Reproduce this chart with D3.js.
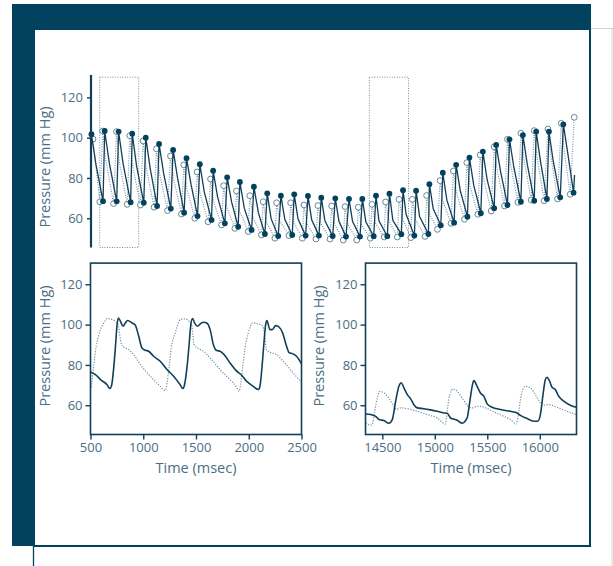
<!DOCTYPE html>
<html>
<head>
<meta charset="utf-8">
<script src="https://cdn.jsdelivr.net/npm/d3@7"></script>
<style>
  html, body { margin: 0; padding: 0; background: #ffffff; }
  svg { display: block; }
  text { font-family: "Open Sans", "Noto Sans", sans-serif; fill: #4a6e83; }
</style>
</head>
<body>
<svg id="chart" width="613" height="566"></svg>
<script>
// ---- data ---------------------------------------------------------------
// Overview trace, one row per beat: [tMin, vMin, tPeak, vPeak, tNotch, vNotch] (ms, mm Hg)
const solidBeats = [
  [null, null, 72, 101.7, 300, 87],
  [668, 68.5, 755, 103.3, 990, 87.5],
  [1370, 68.4, 1468, 103, 1700, 87],
  [2085, 68, 2168, 102, 2390, 86],
  [2760, 67.7, 2863, 100, 3090, 84.7],
  [3443, 66.1, 3546, 96.9, 3776, 82.5],
  [4147, 64.8, 4266, 93.9, 4496, 79.9],
  [4831, 62.8, 4954, 89.8, 5184, 76.9],
  [5520, 61.1, 5638, 86.8, 5868, 73],
  [6239, 59.2, 6321, 83.6, 6551, 70.5],
  [6923, 57.5, 7041, 80.3, 7271, 68],
  [7606, 55.8, 7694, 78, 7924, 64.9],
  [8295, 54.2, 8413, 75.7, 8643, 62.8],
  [8978, 52.2, 9097, 72.4, 9300, 59.7],
  [9662, 51.2, 9800, 71.2, 10000, 59.5],
  [10381, 51.7, 10484, 71.9, 10680, 59.6],
  [11070, 51.4, 11188, 71.1, 11380, 59.3],
  [11753, 51.4, 11872, 70.2, 12060, 58.7],
  [12458, 51.2, 12591, 69.9, 12780, 58.5],
  [13141, 50.9, 13295, 69.6, 13480, 58.4],
  [13861, 50.9, 13979, 69.6, 14160, 58.3],
  [14563, 51.1, 14681, 71.2, 14833, 58.7],
  [15261, 51.1, 15372, 72.2, 15546, 59],
  [15980, 52.1, 16069, 73.9, 16228, 62],
  [16651, 51.4, 16739, 73.7, 16920, 60.8],
  [17371, 52.2, 17422, 76.9, 17620, 64.7],
  [18008, 56.5, 18111, 82.6, 18320, 69],
  [18692, 57.8, 18795, 86.5, 19010, 73.6],
  [19375, 60.8, 19478, 90.1, 19700, 76.3],
  [20064, 62.5, 20167, 93.1, 20390, 79],
  [20747, 65, 20850, 96.4, 21080, 83],
  [21431, 66.6, 21534, 99.2, 21760, 85.2],
  [22119, 68.2, 22222, 101.3, 22450, 86.6],
  [22803, 68.7, 22906, 103, 23130, 88],
  [23455, 69.6, 23560, 103, 23780, 88.3],
  [24140, 70.4, 24300, 106.6, 24540, 91.3],
  [24823, 72.7, null, null, null, null]
];
const solidTail = [[24874, 81.5]];

const dottedBeats = [
  [null, null, 155, 99.3, 300, 86],
  [505, 68.2, 650, 103.3, 810, 89],
  [1209, 67.3, 1360, 103, 1500, 88.5],
  [1908, 66.9, 2045, 101, 2180, 86.5],
  [2590, 66.6, 2724, 98.4, 2884, 85.2],
  [3289, 65.5, 3412, 94.5, 3572, 82.2],
  [3978, 63.8, 4132, 90.9, 4292, 79.4],
  [4697, 62.1, 4815, 86.5, 4975, 74.6],
  [5381, 60, 5499, 83, 5659, 71.9],
  [6064, 58.3, 6188, 79.5, 6348, 68.1],
  [6753, 56.7, 6860, 76.2, 7020, 65.6],
  [7436, 55, 7520, 73.6, 7680, 63.5],
  [8120, 53.4, 8207, 71.2, 8367, 60.5],
  [8800, 51.7, 8891, 68.2, 9050, 58.2],
  [9490, 50.1, 9580, 67.7, 9740, 58.7],
  [10212, 51.4, 10299, 67.7, 10460, 58],
  [10900, 50.1, 10983, 66.6, 11140, 57.3],
  [11599, 49.7, 11702, 66.3, 11860, 57.2],
  [12319, 49.7, 12406, 66.1, 12566, 56.8],
  [13002, 49.2, 13089, 65.8, 13250, 56.7],
  [13691, 49.2, 13773, 65.5, 13933, 56.8],
  [14389, 50.1, 14478, 66.9, 14636, 57.9],
  [15102, 50.7, 15175, 68.1, 15356, 58.7],
  [15778, 50.7, 15863, 69.4, 16038, 60],
  [16470, 50.4, 16548, 69.4, 16708, 59.3],
  [17200, 51, 17280, 71.3, 17440, 62],
  [17833, 54.5, 17972, 78.7, 18130, 68.1],
  [18537, 57.5, 18656, 83.5, 18816, 72.7],
  [19221, 59.5, 19344, 87.6, 19504, 76.1],
  [19910, 62, 20028, 91.4, 20188, 80.3],
  [20593, 63.6, 20747, 95.5, 20907, 83.7],
  [21276, 66.1, 21431, 99.2, 21591, 86.7],
  [21965, 67.9, 22119, 102.2, 22279, 89],
  [22648, 69.1, 22803, 103.5, 22963, 89.6],
  [23316, 68.7, 23506, 104.3, 23666, 90.4],
  [24000, 69.6, 24190, 107.1, 24350, 93],
  [24652, 71.9, 24858, 110.1, null, null]
];

// Zoomed windows (ms) marked on the overview
const windows = [[500, 2500], [14340, 16350]];

// Detail window 1: 500-2500 ms
const early = {
  solid: [
    [500, 76.5], [547, 75.2], [600, 72.5], [657, 70.2], [683, 68.3], [698, 69.4],
    [720, 78.5], [739, 90.9], [752, 100], [765, 103.3], [784, 101.6], [809, 99.2],
    [830, 100.8], [853, 102], [894, 100.8], [925, 99.7], [957, 94.2], [988, 88.4],
    [1020, 87.3], [1051, 86.8], [1098, 84.3], [1161, 81.8], [1225, 77.7], [1288, 74.4],
    [1350, 70.2], [1376, 68.3], [1388, 69.4], [1414, 78.5], [1436, 90.9], [1451, 100],
    [1467, 103], [1490, 100.5], [1514, 99.2], [1540, 100.3], [1571, 101.2], [1602, 100.8],
    [1634, 97.5], [1665, 90], [1697, 87.1], [1728, 86.8], [1766, 85.1], [1823, 81],
    [1886, 76.9], [1933, 74.9], [1980, 71.9], [2043, 69.4], [2091, 67.8], [2106, 69.4],
    [2125, 78.5], [2144, 90.9], [2160, 100], [2172, 102], [2201, 97.5], [2223, 97.5],
    [2255, 99.5], [2289, 98.7], [2321, 95.9], [2352, 90.4], [2384, 86], [2415, 85.6],
    [2453, 84.3], [2500, 80.5]
  ],
  dotted: [
    [500, 69.5], [506, 68.6], [516, 72.7], [532, 80.2], [547, 86.8], [579, 95], [626, 100.8],
    [657, 103], [705, 102.5], [736, 101.6], [761, 100], [790, 90.9], [815, 88.8],
    [862, 87.6], [910, 85.1], [972, 80.2], [1067, 74.4], [1146, 70.2], [1209, 67.3],
    [1225, 71], [1244, 78.5], [1266, 88.4], [1304, 95.9], [1351, 102.5], [1398, 102.8],
    [1445, 100.8], [1461, 99.2], [1483, 90], [1524, 88.1], [1571, 86.8], [1634, 83.5],
    [1728, 77.7], [1823, 72.7], [1886, 68.9], [1908, 66.9], [1924, 71], [1943, 79.2],
    [1965, 88.4], [1996, 95.9], [2037, 100.8], [2091, 100.3], [2132, 99.2], [2148, 95.9],
    [2169, 87.3], [2217, 86], [2264, 85.1], [2327, 81.8], [2421, 76], [2500, 71.4]
  ]
};

// Detail window 2: 14340-16350 ms
const late = {
  solid: [
    [14342, 55.7], [14389, 55.4], [14437, 54.5], [14468, 52.9], [14516, 52.4], [14563, 51.1],
    [14595, 52.9], [14627, 62], [14658, 69.4], [14681, 71.2], [14706, 68.6], [14738, 65.3],
    [14769, 63.3], [14801, 60.3], [14833, 58.7], [14896, 58.3], [14960, 57.7], [15023, 57],
    [15086, 56.2], [15118, 56], [15150, 53.7], [15213, 52.6], [15261, 51.1], [15308, 53.7],
    [15334, 62], [15356, 69.4], [15372, 72.2], [15403, 69.4], [15435, 66.1], [15467, 64.5],
    [15499, 60.7], [15546, 59], [15625, 57.9], [15720, 57], [15784, 56.2], [15816, 55],
    [15879, 53.4], [15942, 52.1], [15980, 52.1], [16006, 55.4], [16031, 65.3], [16053, 72.7],
    [16069, 73.9], [16094, 71.9], [16117, 68.9], [16148, 67.8], [16180, 64.5], [16228, 62],
    [16291, 60], [16345, 59]
  ],
  dotted: [
    [14342, 51.2], [14389, 50.1], [14405, 50.6], [14427, 57], [14452, 63.6], [14478, 66.9],
    [14516, 66.1], [14563, 63.6], [14611, 59.5], [14636, 57.9], [14674, 58.7], [14738, 58.3],
    [14833, 57], [14928, 55.4], [15023, 53.7], [15102, 50.7], [15118, 57], [15143, 65.3],
    [15175, 68.1], [15213, 66.9], [15261, 63.6], [15308, 60], [15356, 58.7], [15403, 59.5],
    [15467, 59], [15562, 56.7], [15657, 54.5], [15720, 52.9], [15778, 50.7], [15800, 57],
    [15825, 65.3], [15863, 69.4], [15911, 68.6], [15958, 65.3], [16006, 61.2], [16038, 60],
    [16085, 60.3], [16164, 59], [16259, 57], [16345, 55.4]
  ]
};

const pressureTicks = [60, 80, 100, 120];
const earlyTicks = [500, 1000, 1500, 2000, 2500];
const lateTicks = [14500, 15000, 15500, 16000];
const yLabel = "Pressure (mm Hg)";
const xLabel = "Time (msec)";

// ---- styles -------------------------------------------------------------
const NAVY = "#03425f";
const LINE = "#123f57";
const DOT = "#6f8fa2";
const TEXT = "#4a6e83";

const svg = d3.select("#chart");

// ---- page frame ---------------------------------------------------------
svg.append("rect").attr("x", 12).attr("y", 4).attr("width", 579).attr("height", 26).attr("fill", NAVY);
svg.append("rect").attr("x", 12).attr("y", 4).attr("width", 23).attr("height", 542).attr("fill", NAVY);
svg.append("line").attr("x1", 590).attr("x2", 590).attr("y1", 29).attr("y2", 547)
  .attr("stroke", NAVY).attr("stroke-width", 2);
svg.append("line").attr("x1", 34).attr("x2", 591).attr("y1", 546).attr("y2", 546)
  .attr("stroke", NAVY).attr("stroke-width", 2);
svg.append("line").attr("x1", 33.5).attr("x2", 33.5).attr("y1", 546).attr("y2", 566)
  .attr("stroke", NAVY).attr("stroke-width", 1.3);
svg.append("line").attr("x1", 591).attr("x2", 613).attr("y1", 28.5).attr("y2", 28.5)
  .attr("stroke", "#c9d6de").attr("stroke-width", 1);
svg.append("line").attr("x1", 612).attr("x2", 612).attr("y1", 28).attr("y2", 566)
  .attr("stroke", "#c9d6de").attr("stroke-width", 1);

// ---- helpers ------------------------------------------------------------
function beatPoints(beats, tail) {
  const pts = [];
  beats.forEach(b => {
    if (b[0] !== null) pts.push([b[0], b[1]]);
    if (b[2] !== null) pts.push([b[2], b[3]]);
    if (b[4] !== null) pts.push([b[4], b[5]]);
  });
  return pts.concat(tail || []);
}
function extremes(beats) {
  const pts = [];
  beats.forEach(b => {
    if (b[0] !== null) pts.push([b[0], b[1]]);
    if (b[2] !== null) pts.push([b[2], b[3]]);
  });
  return pts;
}
function styleAxis(g) {
  g.selectAll(".domain").remove();
  g.selectAll(".tick line").attr("stroke", LINE).attr("stroke-width", 1.4);
  g.selectAll(".tick text").attr("fill", TEXT).style("font-size", "13px")
    .style("font-family", "'Open Sans', sans-serif");
}
function yTitle(x, y) {
  svg.append("text").attr("transform", `translate(${x},${y}) rotate(-90)`)
    .attr("text-anchor", "middle").style("font-size", "14.5px").text(yLabel);
}

// ---- overview panel -----------------------------------------------------
const xTop = d3.scaleLinear().domain([0, 25000]).range([90, 577]);
const yTop = d3.scaleLinear().domain([45.5, 130.5]).range([247.5, 76.2]);

const overview = svg.append("g");
overview.selectAll("rect.win").data(windows).join("rect").attr("class", "win")
  .attr("x", d => xTop(d[0])).attr("width", d => xTop(d[1]) - xTop(d[0]))
  .attr("y", yTop(130)).attr("height", yTop(45.5) - yTop(130))
  .attr("fill", "none").attr("stroke", DOT).attr("stroke-width", 1)
  .attr("stroke-dasharray", "1,1.5");

const lineTop = d3.line().x(d => xTop(d[0])).y(d => yTop(d[1]));
overview.append("path").attr("d", lineTop(beatPoints(dottedBeats)))
  .attr("fill", "none").attr("stroke", DOT).attr("stroke-width", 1.1)
  .attr("stroke-dasharray", "1,1.4");
overview.selectAll("circle.open").data(extremes(dottedBeats)).join("circle").attr("class", "open")
  .attr("cx", d => xTop(d[0])).attr("cy", d => yTop(d[1])).attr("r", 2.9)
  .attr("fill", "#ffffff").attr("stroke", "#557a8f").attr("stroke-width", 0.9);
overview.append("path").attr("d", lineTop(beatPoints(solidBeats, solidTail)))
  .attr("fill", "none").attr("stroke", LINE).attr("stroke-width", 1.3);
overview.selectAll("circle.fill").data(extremes(solidBeats)).join("circle").attr("class", "fill")
  .attr("cx", d => xTop(d[0])).attr("cy", d => yTop(d[1])).attr("r", 2.9)
  .attr("fill", NAVY);

const yAxTop = overview.append("g").attr("transform", "translate(91,0)")
  .call(d3.axisLeft(yTop).tickValues(pressureTicks).tickSize(4).tickPadding(4).tickSizeOuter(0));
styleAxis(yAxTop);
overview.append("line").attr("x1", 91).attr("x2", 91).attr("y1", 75).attr("y2", 247.5)
  .attr("stroke", LINE).attr("stroke-width", 2.2);
yTitle(50, 167);

// ---- detail panels ------------------------------------------------------
const yBot = d3.scaleLinear().domain([45.5, 130.5]).range([434.5, 263.1]);

function detail(data, domain, range, ticks, titleX) {
  const x = d3.scaleLinear().domain(domain).range(range);
  const g = svg.append("g");
  const id = "clip" + Math.round(range[0]);
  svg.append("clipPath").attr("id", id).append("rect")
    .attr("x", range[0]).attr("y", yBot.range()[1])
    .attr("width", range[1] - range[0]).attr("height", yBot.range()[0] - yBot.range()[1]);
  const line = d3.line().x(d => x(d[0])).y(d => yBot(d[1])).curve(d3.curveMonotoneX);
  g.append("path").attr("d", line(data.dotted)).attr("clip-path", `url(#${id})`)
    .attr("fill", "none").attr("stroke", DOT).attr("stroke-width", 1.2)
    .attr("stroke-dasharray", "1.2,1.5");
  g.append("path").attr("d", line(data.solid)).attr("clip-path", `url(#${id})`)
    .attr("fill", "none").attr("stroke", LINE).attr("stroke-width", 1.6);

  const ax = g.append("g").attr("transform", `translate(0,${yBot.range()[0]})`)
    .call(d3.axisBottom(x).tickValues(ticks).tickFormat(d3.format("d"))
      .tickSize(5).tickPadding(3).tickSizeOuter(0));
  styleAxis(ax);
  const ay = g.append("g").attr("transform", `translate(${range[0]},0)`)
    .call(d3.axisLeft(yBot).tickValues(pressureTicks).tickSize(5).tickPadding(3).tickSizeOuter(0));
  styleAxis(ay);

  g.append("rect").attr("x", range[0]).attr("y", yBot.range()[1])
    .attr("width", range[1] - range[0]).attr("height", yBot.range()[0] - yBot.range()[1])
    .attr("fill", "none").attr("stroke", LINE).attr("stroke-width", 1.6);

  yTitle(titleX, 346);
  svg.append("text").attr("x", (range[0] + range[1]) / 2).attr("y", 473)
    .attr("text-anchor", "middle").style("font-size", "14.5px").text(xLabel);
}

detail(early, [500, 2500], [90.5, 301.5], earlyTicks, 50);
detail(late, [14340, 16350], [365.5, 576.5], lateTicks, 323.5);
</script>
</body>
</html>
